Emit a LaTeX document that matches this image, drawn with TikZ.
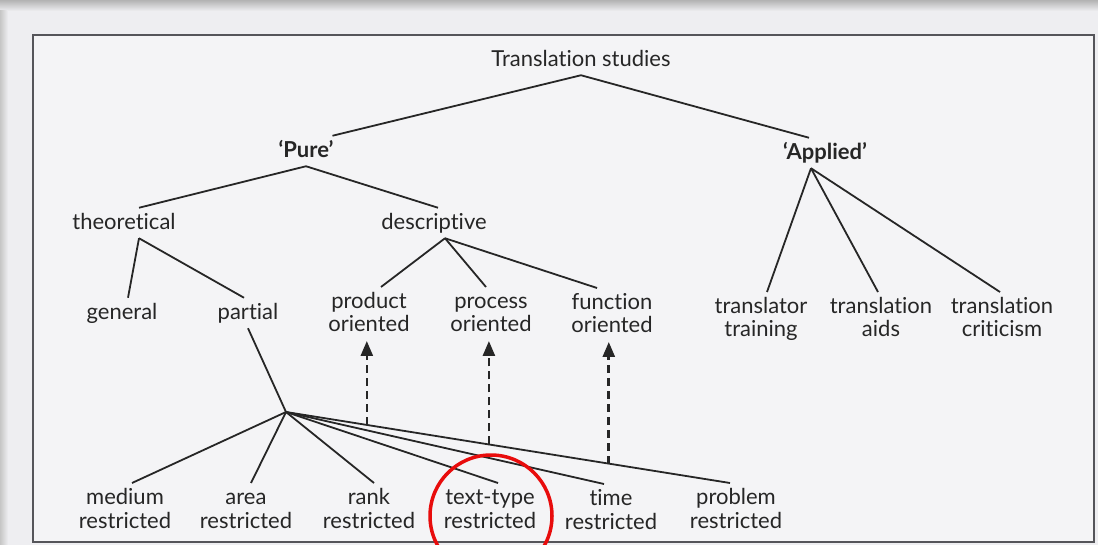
\documentclass[tikz,border=0pt]{standalone}
\usepackage{fontspec}
\setmainfont{Lato}[Ligatures=NoCommon]
\usetikzlibrary{arrows.meta,calc}
\definecolor{pagebg}{RGB}{238,238,241}
\definecolor{boxbg}{RGB}{244,244,246}
\definecolor{ink}{RGB}{38,38,38}
\definecolor{framecol}{RGB}{85,85,90}
\definecolor{ringred}{RGB}{232,12,12}
\newcommand\topstrut{\rule{0pt}{18.5pt}}
\newcommand\botstrut{\rule[-6pt]{0pt}{6pt}}
\newcommand\twolines[2]{\topstrut#1\\#2\botstrut}
\begin{document}
\begin{tikzpicture}[x=1pt, y=-1pt,
    every node/.style={font=\fontsize{22}{23.5}\selectfont, text=ink, align=center, inner sep=0pt, outer sep=3pt},
    head/.style={font=\fontsize{22}{23.5}\selectfont\bfseries},
    branch/.style={draw=ink, line width=1.8pt},
    hint/.style={draw=ink, line width=2.6pt, dash pattern=on 8pt off 5pt, -{Triangle[length=15pt,width=12pt]}}]
    \useasboundingbox (0,0) rectangle (1098,545);
    % --- page and frame ---
    \fill[pagebg] (0,0) rectangle (1098,545);
    \shade[top color=gray!60, bottom color=pagebg] (0,0) rectangle (1098,11);
    \shade[left color=gray!45, right color=pagebg] (0,11) rectangle (8,545);
    \draw[framecol, line width=2pt, fill=boxbg] (33,35) rectangle (1094,542);

    % --- top levels ---
    \node (ts) at (581,60) {\topstrut Translation studies\botstrut};
    \node[head] (pure) at (306,151) {\topstrut‘Pure’\botstrut};
    \node[head] (appl) at (825,153) {\topstrut‘Applied’\botstrut};
    \draw[branch] (ts.south) -- ([xshift=-4pt]pure.north east);
    \draw[branch] (ts.south) -- ([xshift=-16pt]appl.north);

    % --- pure ---
    \node (theo) at (124,223) {\topstrut theoretical\botstrut};
    \node (desc) at (434,223) {\topstrut descriptive\botstrut};
    \draw[branch] (pure.south) -- ([xshift=15pt]theo.north);
    \draw[branch] (pure.south) -- ([xshift=4pt]desc.north);

    \node (gen) at (122,313) {\topstrut general\botstrut};
    \node (part) at (248,313) {\topstrut partial\botstrut};
    \draw[branch] ([xshift=15pt]theo.south) -- ([xshift=6pt]gen.north);
    \draw[branch] ([xshift=15pt]theo.south) -- ([xshift=-4pt]part.north);

    \node (prod) at (369,314) {\twolines{product}{oriented}};
    \node (proc) at (491,314) {\twolines{process}{oriented}};
    \node (func) at (612,315) {\twolines{function}{oriented}};
    \draw[branch] ([xshift=11pt]desc.south) -- ([xshift=12pt]prod.north);
    \draw[branch] ([xshift=11pt]desc.south) -- ([xshift=-5pt]proc.north);
    \draw[branch] ([xshift=11pt]desc.south) -- ([xshift=-15pt]func.north);

    % --- applied ---
    \node (trtr) at (761,319) {\twolines{translator}{training}};
    \node (trai) at (881,319) {\twolines{translation}{aids}};
    \node (trcr) at (1002,319) {\twolines{translation}{criticism}};
    \draw[branch] ([xshift=-14pt]appl.south) -- ([xshift=6pt]trtr.north);
    \draw[branch] ([xshift=-14pt]appl.south) -- ([xshift=-3pt]trai.north);
    \draw[branch] ([xshift=-14pt]appl.south) -- ([xshift=-2pt]trcr.north);

    % --- partial: restrictions ---
    \coordinate (hub) at (286,412);
    \node (med) at (125,510) {\twolines{medium}{restricted}};
    \node (area) at (246,510) {\twolines{area}{restricted}};
    \node (rank) at (369,510) {\twolines{rank}{restricted}};
    \node (tt) at (490,510) {\twolines{text-type}{restricted}};
    \node (time) at (611,511) {\twolines{time}{restricted}};
    \node (prob) at (736,510) {\twolines{problem}{restricted}};
    \draw[branch] (part.south) -- (hub);
    \foreach \n/\dx in {med/7, area/5, rank/5, tt/8, time/-7, prob/-6}
        \draw[branch] (hub) -- ([xshift=\dx pt]\n.north);

    % --- dashed links ---
    \path (hub) -- ([xshift=-6pt]prob.north)
        coordinate[pos=0.182] (d1)
        coordinate[pos=0.457] (d2)
        coordinate[pos=0.727] (d3);
    \draw[hint] (d1) -- (d1 |- prod.south);
    \draw[hint] (d2) -- (d2 |- proc.south);
    \draw[hint] (d3) -- (d3 |- func.south);

    % --- highlight ---
    \draw[ringred, line width=3.5pt] (tt.center) ++(1,6) circle[radius=61];
\end{tikzpicture}
\end{document}
